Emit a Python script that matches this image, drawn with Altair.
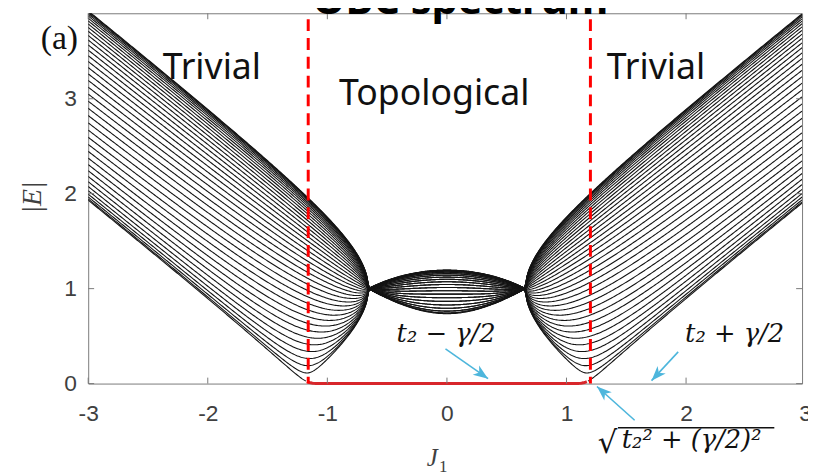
import numpy as np
import pandas as pd
import altair as alt

# ---------------- values ----------------
t2 = 1.0          # intercell hopping
gamma = 1.314     # non-reciprocity: lens crossings at J1 = ±gamma/2 ≈ ±0.657, |E| = t2
n_cells = 40      # 40 bands in |E|
j1_grid = np.round(np.linspace(-3.0, 2.97, 598), 4)
edge_limit = 1.178  # extent of the zero-energy (red) edge state

x_domain = [-3, 2.97]
y_domain = [0, 3.9]
x_ticks = [-3, -2, -1, 0, 1, 2, 3]
y_ticks = [0, 1, 2, 3]
edge_tick_label = ["3"]          # right-most tick label, cut by the frame edge
edge_tick_x, edge_tick_y = [3.0], [-0.318]

transition_j1 = [-1.16, 1.2]

region_names = ["Trivial", "Topological", "Trivial"]
region_x = [-1.966, -0.107, 1.748]
region_y = [3.21, 2.93, 3.21]

arrow_labels = ["t₂ − γ/2", "t₂ + γ/2"]
arrow_label_x = [-0.007, 2.406]
arrow_label_y = [0.44, 0.44]

arrow_x0 = [-0.012, 1.934, 1.570]
arrow_y0 = [0.365, 0.334, -0.386]
arrow_x1 = [0.344, 1.711, 1.255]
arrow_y1 = [0.052, 0.031, -0.031]
arrow_angle = [125, 223, 312]

sqrt_body = ["t₂² + (γ/2)²"]
sqrt_body_x = [1.462]
sqrt_body_y = [-0.677]
sqrt_sign_x = [1.262]
sqrt_sign_y = [-0.73]
vinculum_x = [1.43]
vinculum_x2 = [2.738]
vinculum_y = [-0.465]

panel_label = ["(a)"]
panel_x, panel_y = [-3.241], [3.629]
title_text = ["OBC spectrum"]
title_x, title_y = [0.113], [3.895]
ylab_text, ylab_x, ylab_y = ["|E|"], [-3.465], [1.96]
xlab_text, xlab_x, xlab_y = ["J"], [-0.123], [-0.787]
xsub_text, xsub_x, xsub_y = ["1"], [-0.032], [-0.876]

# ---------------- spectrum (OBC, similarity-transformed chain) ----------------
rows_black, rows_red = [], []
for J in j1_grid:
    v = np.sqrt(complex((J + gamma / 2) * (J - gamma / 2)))
    hop = np.empty(2 * n_cells - 1, dtype=complex)
    hop[0::2] = v
    hop[1::2] = t2
    H = np.diag(hop, 1) + np.diag(hop, -1)
    levels = np.sort(np.abs(np.linalg.eigvals(H)))[::2]
    for n, e in enumerate(levels):
        e = round(float(e), 4)
        if n == 0 and abs(J) <= edge_limit:
            rows_red.append((float(J), e))
        else:
            key = str(n) if n > 0 else ("0L" if J < 0 else "0R")
            rows_black.append((float(J), e, key))

df_black = pd.DataFrame(rows_black, columns=["J1", "E", "band"])
df_red = pd.DataFrame(rows_red, columns=["J1", "E"])

W, Hh = 721, 374
xs = alt.Scale(domain=x_domain, nice=False, zero=False)
ys = alt.Scale(domain=y_domain, nice=False, zero=False)
x_axis = alt.Axis(values=x_ticks, title=None, tickSize=0, domain=False, grid=False,
                  labelFlush=False, labelPadding=19, labelExpr="'' + datum.value")
y_axis = alt.Axis(values=y_ticks, title=None, tickSize=0, domain=False, grid=False,
                  labelPadding=12, labelExpr="'' + datum.value")


def X(f):
    return alt.X(f, type="quantitative", scale=xs, axis=x_axis)


def Y(f):
    return alt.Y(f, type="quantitative", scale=ys, axis=y_axis)


curves = alt.Chart(df_black).mark_line(color="#141414", strokeWidth=1.1, clip=True).encode(
    x=X("J1"), y=Y("E"), detail="band:N")

edge = alt.Chart(df_red).mark_line(color="#d8262b", strokeWidth=3).encode(x=X("J1"), y=Y("E"))

dashed = alt.Chart(pd.DataFrame({"J1": transition_j1})).mark_rule(
    color="#ff0000", strokeWidth=3, strokeDash=[12, 7], strokeDashOffset=-6).encode(x=X("J1"))

tick_gray = "#7a7a7a"
xt = pd.DataFrame({"J1": x_ticks[:-1]})
yt = pd.DataFrame({"E": y_ticks})
ticks = [
    alt.Chart(xt).mark_rule(color=tick_gray).encode(x=X("J1"), y=alt.value(Hh), y2=alt.value(Hh - 6)),
    alt.Chart(xt).mark_rule(color=tick_gray).encode(x=X("J1"), y=alt.value(0), y2=alt.value(6)),
    alt.Chart(yt).mark_rule(color=tick_gray).encode(y=Y("E"), x=alt.value(0), x2=alt.value(6)),
    alt.Chart(yt).mark_rule(color=tick_gray).encode(y=Y("E"), x=alt.value(W), x2=alt.value(W - 6)),
]

cyan = "#4db6dc"
arr = pd.DataFrame({"x0": arrow_x0, "y0": arrow_y0, "x1": arrow_x1, "y1": arrow_y1, "ang": arrow_angle})
arrow_lines = alt.Chart(arr).mark_rule(color=cyan, strokeWidth=1.6).encode(
    x=X("x0"), y=Y("y0"), x2="x1", y2="y1")
arrow_heads = alt.Chart(arr).mark_point(
    shape="M0,0 L0.75,2 L0,1.45 L-0.75,2 Z", filled=True, size=225, color=cyan, opacity=1,
    strokeWidth=0).encode(x=X("x1"), y=Y("y1"), angle=alt.Angle("ang:Q", scale=None))


def text_layer(texts, xv, yv, **kw):
    d = pd.DataFrame({"t": texts, "x": xv, "y": yv})
    return alt.Chart(d).mark_text(**kw).encode(x=X("x"), y=Y("y"), text="t:N")


edge_tick = text_layer(edge_tick_label, edge_tick_x, edge_tick_y, font="Liberation Sans",
                       fontSize=23, color="#404040", align="center", baseline="middle")
regions = text_layer(region_names, region_x, region_y, font="Noto Sans", fontSize=36,
                     color="#111111", align="center", baseline="alphabetic")
alabels = text_layer(arrow_labels, arrow_label_x, arrow_label_y, font="DejaVu Serif",
                     fontStyle="italic", fontSize=26, color="#111111", align="center",
                     baseline="alphabetic")
sqrt_sign = text_layer(["√"], sqrt_sign_x, sqrt_sign_y, font="DejaVu Serif", fontSize=31,
                       color="#111111", align="left", baseline="alphabetic")
sqrt_text = text_layer(sqrt_body, sqrt_body_x, sqrt_body_y, font="DejaVu Serif",
                       fontStyle="italic", fontSize=26, color="#111111", align="left",
                       baseline="alphabetic")
vinc = alt.Chart(pd.DataFrame({"a": vinculum_x, "b": vinculum_x2, "c": vinculum_y})).mark_rule(
    color="#111111", strokeWidth=1.4).encode(x=X("a"), x2="b", y=Y("c"))
panel = text_layer(panel_label, panel_x, panel_y, font="Liberation Serif", fontSize=34,
                   color="#111111", align="center", baseline="middle")
title = text_layer(title_text, title_x, title_y, font="Noto Sans", fontWeight="bold",
                   fontSize=42, color="#000000", align="center", baseline="alphabetic")
ylab = text_layer(ylab_text, ylab_x, ylab_y, font="Liberation Serif", fontStyle="italic",
                  fontSize=28, color="#404040", align="center", baseline="middle", angle=270)
xlab = text_layer(xlab_text, xlab_x, xlab_y, font="Liberation Serif", fontStyle="italic",
                  fontSize=25, color="#404040", align="center", baseline="middle")
xsub = text_layer(xsub_text, xsub_x, xsub_y, font="Liberation Serif", fontSize=17,
                  color="#404040", align="center", baseline="middle")

chart = alt.layer(
    curves, edge, dashed, *ticks, arrow_lines, arrow_heads, edge_tick, regions, alabels,
    sqrt_sign, sqrt_text, vinc, panel, title, ylab, xlab, xsub
).properties(
    width=W, height=Hh, autosize="none",
    padding={"left": 81, "top": 3, "right": 6, "bottom": 90},
).configure_view(stroke="#7a7a7a", strokeWidth=1).configure_axis(
    labelFont="Liberation Sans", labelFontSize=23, labelColor="#404040")

chart.save("out.html", embed_options={"renderer": "svg", "actions": False})
